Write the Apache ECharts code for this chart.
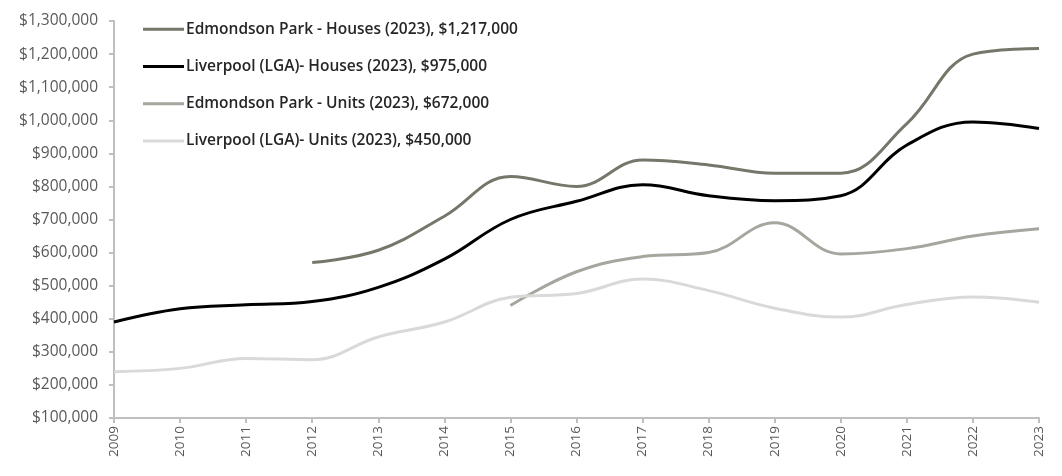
<!DOCTYPE html>
<html><head><meta charset="utf-8">
<script src="https://cdn.jsdelivr.net/npm/echarts@6/dist/echarts.min.js"></script>
<style>html,body{margin:0;padding:0;background:#fff}#c{width:1062px;height:476px}</style>
</head><body><div id="c"></div>
<script>
var years = ['2009','2010','2011','2012','2013','2014','2015','2016','2017','2018','2019','2020','2021','2022','2023'];
var edHouses = [null,null,null,570000,607000,710000,830000,800000,880000,865000,840000,840000,990000,1200000,1217000];
var lvHouses = [390000,430000,442000,452000,495000,580000,700000,755000,805000,772000,757000,772000,925000,995000,975000];
var edUnits = [null,null,null,null,null,null,440000,542000,588000,600000,690000,596000,612000,650000,672000];
var lvUnits = [240000,250000,280000,276000,345000,390000,465000,476000,520000,485000,432000,405000,443000,466000,450000];
var names = ['Edmondson Park - Houses (2023), $1,217,000','Liverpool (LGA)- Houses (2023), $975,000','Edmondson Park - Units (2023), $672,000','Liverpool (LGA)- Units (2023), $450,000'];
var colors = ['#76776b','#000000','#a6a69e','#d9d9d9'];
var font = '"Open Sans", "DejaVu Sans", sans-serif';
var chart = echarts.init(document.getElementById('c'));
function mk(i, d){return {name:names[i],type:'line',data:d,smooth:0.4,symbol:'none',connectNulls:false,lineStyle:{width:3,color:colors[i]},itemStyle:{color:colors[i]}};}
chart.setOption({
  animation:false,
  color:colors,
  grid:{left:114,right:23,top:21,bottom:58},
  legend:{orient:'vertical',left:143,top:21,padding:0,icon:'rect',itemWidth:41,itemHeight:3,itemGap:21,
    textStyle:{fontFamily:font,fontSize:15.5,fontWeight:600,color:'#262626',lineHeight:16.3,padding:[0,0,0,-3]},
    data:names},
  xAxis:{type:'category',data:years,boundaryGap:false,
    axisLine:{lineStyle:{color:'#bfbfbf',width:2}},
    axisTick:{show:true,length:5,lineStyle:{color:'#bfbfbf',width:2}},
    axisLabel:{rotate:90,fontFamily:font,fontSize:13.5,color:'#595959',margin:8}},
  yAxis:{type:'value',min:100000,max:1300000,interval:100000,
    splitLine:{show:false},
    axisLine:{show:true,lineStyle:{color:'#bfbfbf',width:2}},
    axisTick:{show:true,length:5,lineStyle:{color:'#bfbfbf',width:2}},
    axisLabel:{fontFamily:font,fontSize:15.5,color:'#595959',margin:16,
      formatter:function(v){return '$'+v.toLocaleString('en-US');}}},
  series:[mk(0,edHouses),mk(1,lvHouses),mk(2,edUnits),mk(3,lvUnits)]
});
</script></body></html>
